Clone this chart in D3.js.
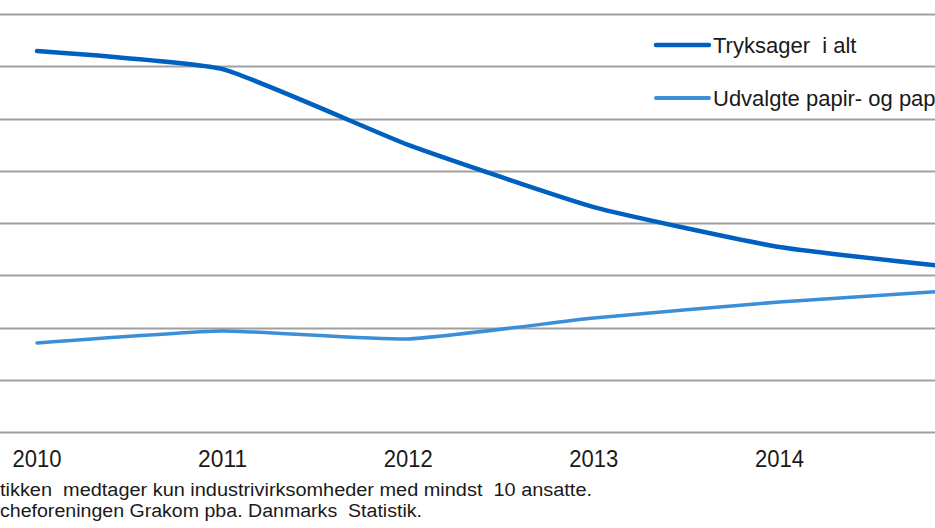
<!DOCTYPE html>
<html>
<head>
<meta charset="utf-8">
<script src="https://cdn.jsdelivr.net/npm/d3@7"></script>
<style>
  body { margin: 0; background: #fff; }
  svg { display: block; }
  text { font-family: "Liberation Sans", Arial, sans-serif; fill: #1a1a1a; white-space: pre; }
</style>
</head>
<body>
<script>
var width = 935;
var height = 528;

// data (index-like units, axis labels are cropped away)
var years = [2010, 2011, 2012, 2013, 2014, 2015];
var tryksager = [145.8, 138.9, 109.9, 86.1, 70.8, 62.6];
var papir = [34.1, 38.7, 35.6, 43.6, 49.8, 54.4];
var yTicks = [0, 20, 40, 60, 80, 100, 120, 140, 160];
var seriesNames = ["Tryksager  i alt", "Udvalgte papir- og papvarer"];
var seriesColors = ["#0060bf", "#3a8fd8"];
var notes = ["tikken  medtager kun industrivirksomheder med mindst  10 ansatte.",
             "cheforeningen Grakom pba. Danmarks  Statistik."];

var svg = d3.select('body')
    .append('svg')
    .attr('width', width)
    .attr('height', height);

var x = d3.scaleLinear()
    .domain([2010, 2015])
    .range([37, 965]);

var y = d3.scaleLinear()
    .domain([0, 160])
    .range([432, 14]);

// gridlines
svg.append('g')
    .selectAll('line')
    .data(yTicks)
    .enter()
    .append('line')
    .attr('x1', 0)
    .attr('x2', width)
    .attr('y1', d => Math.round(y(d)) + 0.5)
    .attr('y2', d => Math.round(y(d)) + 0.5)
    .attr('stroke', '#a0a0a0')
    .attr('stroke-width', 2);

// x labels
svg.append('g')
    .selectAll('text')
    .data(years.slice(0, 5))
    .enter()
    .append('text')
    .attr('x', d => x(d))
    .attr('y', 467)
    .attr('text-anchor', 'middle')
    .style('font-size', '23px')
    .attr('textLength', 49)
    .attr('lengthAdjust', 'spacingAndGlyphs')
    .text(d => d);

var line = d3.line()
    .x((d, i) => x(years[i]))
    .y(d => y(d))
    .curve(d3.curveCardinal.tension(0.55));

svg.append('path')
    .attr('d', line(papir))
    .attr('fill', 'none')
    .attr('stroke', seriesColors[1])
    .attr('stroke-width', 3.5)
    .attr('stroke-linecap', 'round');

svg.append('path')
    .attr('d', line(tryksager))
    .attr('fill', 'none')
    .attr('stroke', seriesColors[0])
    .attr('stroke-width', 4.5)
    .attr('stroke-linecap', 'round');

// legend
var legend = svg.append('g')
    .selectAll('g')
    .data(seriesNames)
    .enter()
    .append('g')
    .attr('transform', (d, i) => 'translate(0,' + (45 + i * 53) + ')');

legend.append('line')
    .attr('x1', 656)
    .attr('x2', 709)
    .attr('stroke', (d, i) => seriesColors[i])
    .attr('stroke-width', (d, i) => i == 0 ? 4.5 : 4)
    .attr('stroke-linecap', 'round');

legend.append('text')
    .attr('x', 713)
    .attr('y', 8)
    .style('font-size', '22px')
    .text(d => d);

// footnotes
svg.append('g')
    .selectAll('text')
    .data(notes)
    .enter()
    .append('text')
    .attr('x', 0)
    .attr('y', (d, i) => 496 + i * 21)
    .style('font-size', '18px')
    .attr('textLength', (d, i) => i == 0 ? 592 : 422)
    .attr('lengthAdjust', 'spacingAndGlyphs')
    .text(d => d);
</script>
</body>
</html>
